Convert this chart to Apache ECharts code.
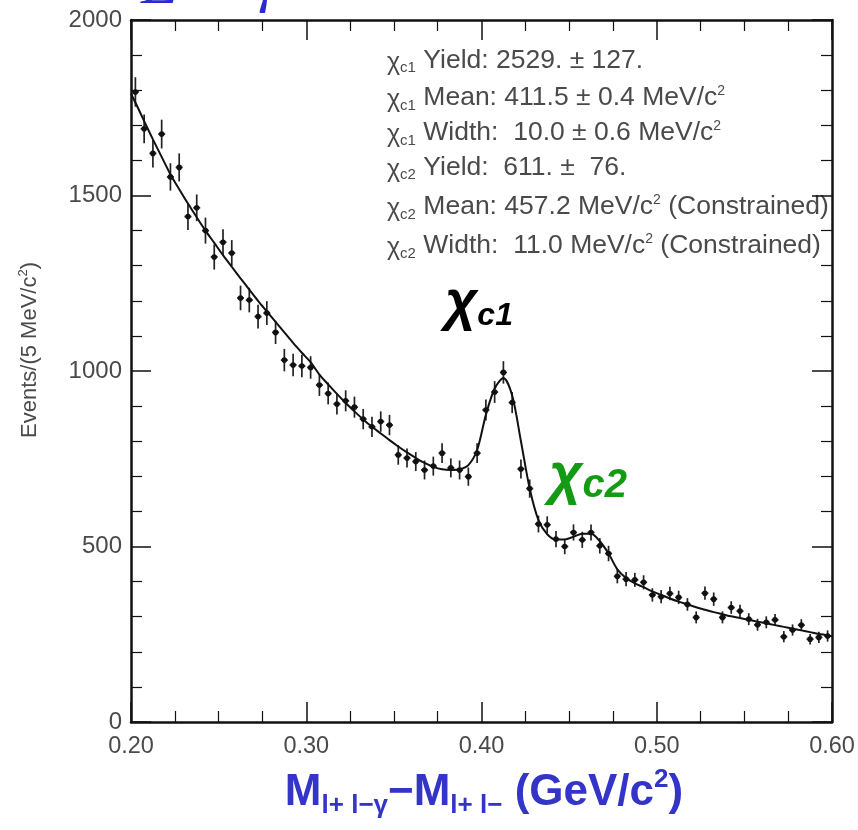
<!DOCTYPE html>
<html>
<head>
<meta charset="utf-8">
<script src="https://cdn.jsdelivr.net/npm/echarts@6/dist/echarts.min.js"></script>
<style>
html,body{margin:0;padding:0;background:#fff;}
#chart{width:858px;height:830px;}
</style>
</head>
<body>
<div id="chart"></div>
<script>
// Bin centres (GeV/c^2), 5 MeV bins from 0.20 to 0.60
const binCenters = [
0.2025,0.2075,0.2125,0.2175,0.2225,0.2275,0.2325,0.2375,0.2425,0.2475,
0.2525,0.2575,0.2625,0.2675,0.2725,0.2775,0.2825,0.2875,0.2925,0.2975,
0.3025,0.3075,0.3125,0.3175,0.3225,0.3275,0.3325,0.3375,0.3425,0.3475,
0.3525,0.3575,0.3625,0.3675,0.3725,0.3775,0.3825,0.3875,0.3925,0.3975,
0.4025,0.4075,0.4125,0.4175,0.4225,0.4275,0.4325,0.4375,0.4425,0.4475,
0.4525,0.4575,0.4625,0.4675,0.4725,0.4775,0.4825,0.4875,0.4925,0.4975,
0.5025,0.5075,0.5125,0.5175,0.5225,0.5275,0.5325,0.5375,0.5425,0.5475,
0.5525,0.5575,0.5625,0.5675,0.5725,0.5775,0.5825,0.5875,0.5925,0.5975
];
// Events per 5 MeV/c^2
const events = [
1795,1690,1620,1675,1553,1580,1440,1465,1400,1325,
1367,1336,1208,1202,1155,1165,1110,1031,1017,1014,
1010,960,936,906,915,897,863,841,856,846,
761,752,742,718,729,766,724,718,699,766,
889,940,996,910,721,665,564,562,521,500,
540,519,540,502,480,415,407,405,398,362,
357,366,355,335,298,367,350,298,326,316,
293,277,284,291,243,262,276,236,241,245
];
// Statistical errors (half-lengths of the error bars)
const errors = [
42,41,40,41,39,40,38,38,37,36,
37,37,35,35,34,34,33,32,32,32,
32,31,31,30,30,30,29,29,29,29,
28,27,27,27,27,28,27,27,26,28,
30,31,32,30,27,26,24,24,23,22,
23,23,23,22,22,20,20,20,20,19,
19,19,19,18,17,19,19,17,18,18,
17,17,17,17,16,16,17,15,16,16
];
// Fit curve
const fitX = [0.2000].concat(binCenters).concat([0.6000]);
const fitValues = [
1790,
1765,1712,1660,1610,1560,1518,1477,1438,1400,1365,
1330,1297,1264,1232,1200,1170,1140,1110,1080,1052,
1025,990,962,935,909,885,862,841,822,803,
785,768,752,738,727,720,718,720,732,775,
875,950,980,930,800,665,575,535,520,520,
528,536,536,515,480,435,410,395,384,372,
362,352,343,335,327,320,313,307,301,296,
291,286,281,276,271,266,261,256,251,247,
244
];
const xTicks = [0.20,0.30,0.40,0.50,0.60];
const yTicks = [0,500,1000,1500,2000];
const fitInfo = [
  {tag:'c1', text:' Yield: 2529. \u00b1 127.', sup:'', tail:''},
  {tag:'c1', text:' Mean: 411.5 \u00b1 0.4 MeV/c', sup:'2', tail:''},
  {tag:'c1', text:' Width:  10.0 \u00b1 0.6 MeV/c', sup:'2', tail:''},
  {tag:'c2', text:' Yield:  611. \u00b1  76.', sup:'', tail:''},
  {tag:'c2', text:' Mean: 457.2 MeV/c', sup:'2', tail:' (Constrained)'},
  {tag:'c2', text:' Width:  11.0 MeV/c', sup:'2', tail:' (Constrained)'}
];

const chart = echarts.init(document.getElementById('chart'), null, {renderer:'canvas'});
const pts = binCenters.map((x,i)=>[x, events[i], errors[i]]);
const fitPts = fitX.map((x,i)=>[x, fitValues[i]]);

const FONT = 'Liberation Sans, Arial, Helvetica, sans-serif';
const GRAY = '#4a4a4a';
const axisCommon = {
  splitLine:{show:false},
  axisLine:{show:true, onZero:false, lineStyle:{color:'#111', width:2.5}},
  axisTick:{show:true, inside:true, length:20, lineStyle:{color:'#111', width:1.5}},
  minorTick:{show:true, length:11, lineStyle:{color:'#111', width:1.2}},
  minorSplitLine:{show:false}
};
function xAx(pos, labels){
  return Object.assign({}, axisCommon, {
    type:'value', position:pos, min:xTicks[0], max:xTicks[xTicks.length-1], interval:0.1,
    minorTick:Object.assign({}, axisCommon.minorTick, {splitNumber:4}),
    axisLabel:{show:labels, color:GRAY, fontSize:23.5, fontFamily:FONT, margin:13,
      formatter:v=>v.toFixed(2), showMaxLabel:true, showMinLabel:true}
  });
}
function yAx(pos, labels){
  return Object.assign({}, axisCommon, {
    type:'value', position:pos, min:yTicks[0], max:yTicks[yTicks.length-1], interval:500,
    minorTick:Object.assign({}, axisCommon.minorTick, {splitNumber:5}),
    axisLabel:{show:labels, color:GRAY, fontSize:24, fontFamily:FONT, margin:9, formatter:v=>String(v)}
  });
}

const infoGraphics = fitInfo.map((r,i)=>({
  type:'text', left:387, top:[47,83,118,154,192,231][i],
  style:{
    text:'{chi|\u03c7}{sub|'+r.tag+'}{t|'+r.text+'}'+(r.sup?'{sup|'+r.sup+'}':'')+(r.tail?'{t|'+r.tail+'}':''),
    rich:{
      chi:{fontSize:25, fontFamily:FONT, fill:GRAY, lineHeight:30, verticalAlign:'bottom'},
      sub:{fontSize:15, fontFamily:FONT, fill:GRAY, lineHeight:14, verticalAlign:'bottom'},
      t:{fontSize:26.5, fontFamily:FONT, fill:GRAY, lineHeight:30},
      sup:{fontSize:14, fontFamily:FONT, fill:GRAY, lineHeight:14, verticalAlign:'top', padding:[1,0,0,0]}
    }
  }
}));

const option = {
  backgroundColor:'#fff',
  animation:false,
  grid:{left:131, right:26, top:20, bottom:108, containLabel:false},
  xAxis:[xAx('bottom', true), xAx('top', false)],
  yAxis:[yAx('left', true), yAx('right', false)],
  series:[
    {
      type:'custom', xAxisIndex:0, yAxisIndex:0, data:pts, z:3,
      renderItem:function(params, api){
        const x = api.value(0), y = api.value(1), e = api.value(2);
        const c = api.coord([x,y]);
        const t = api.coord([x,y+e]);
        const b = api.coord([x,y-e]);
        const l = api.coord([x-0.002,y]);
        const r = api.coord([x+0.002,y]);
        return {type:'group', children:[
          {type:'line', shape:{x1:c[0],y1:t[1],x2:c[0],y2:b[1]}, style:{stroke:'#222', lineWidth:1.7}},
          {type:'line', shape:{x1:l[0],y1:c[1],x2:r[0],y2:c[1]}, style:{stroke:'#222', lineWidth:1.7}},
          {type:'circle', shape:{cx:c[0],cy:c[1],r:2.8}, style:{fill:'#111'}}
        ]};
      }
    },
    {
      type:'line', xAxisIndex:0, yAxisIndex:0, data:fitPts, showSymbol:false, symbol:'none',
      smooth:0.3, lineStyle:{color:'#111', width:2}, z:4
    }
  ],
  graphic:[
    // cut-off title at the very top
    {type:'text', left:141, top:-44, style:{text:'E', font:'italic 62px "Liberation Serif", serif', fill:'#2a2ad0'}},
    {type:'text', left:256, top:-42, style:{text:'\u03b3', font:'italic 56px "Liberation Serif", serif', fill:'#2a2ad0'}},
    // y-axis title
    {type:'text', x:30, y:350, rotation:Math.PI/2,
      style:{text:'{t|Events/(5 MeV/c}{sup|2}{t|)}', align:'center', verticalAlign:'middle',
        rich:{t:{fontSize:22, fontFamily:FONT, fill:GRAY, lineHeight:26},
              sup:{fontSize:13, fontFamily:FONT, fill:GRAY, lineHeight:13, verticalAlign:'top'}}}},
    // x-axis title
    {type:'text', x:484, y:793,
      style:{text:'{m|M}{sub|l+ l\u2212\u03b3}{m|\u2212M}{sub|l+ l\u2212}{m| (GeV/c}{sup|2}{m|)}', align:'center', verticalAlign:'middle',
        rich:{
          m:{fontSize:44, fontWeight:'bold', fontFamily:FONT, fill:'#3434c8', lineHeight:52},
          sub:{fontSize:26, fontWeight:'bold', fontFamily:FONT, fill:'#3434c8', lineHeight:22, verticalAlign:'bottom'},
          sup:{fontSize:26, fontWeight:'bold', fontFamily:FONT, fill:'#3434c8', lineHeight:26, verticalAlign:'top'}
        }}},
    // peak labels
    {type:'text', left:445, top:276,
      style:{text:'{c|\u03c7}{s|c1}',
        rich:{c:{fontSize:56, fontStyle:'italic', fontWeight:'bold', fontFamily:FONT, fill:'#000', lineHeight:56},
              s:{fontSize:32, fontStyle:'italic', fontWeight:'bold', fontFamily:FONT, fill:'#000', lineHeight:36, verticalAlign:'bottom'}}}},
    {type:'text', left:549, top:448,
      style:{text:'{c|\u03c7}{s|c2}',
        rich:{c:{fontSize:58, fontStyle:'italic', fontWeight:'bold', fontFamily:FONT, fill:'#149a14', lineHeight:58},
              s:{fontSize:40, fontStyle:'italic', fontWeight:'bold', fontFamily:FONT, fill:'#149a14', lineHeight:42, verticalAlign:'bottom'}}}}
  ].concat(infoGraphics)
};
chart.setOption(option);
</script>
</body>
</html>
